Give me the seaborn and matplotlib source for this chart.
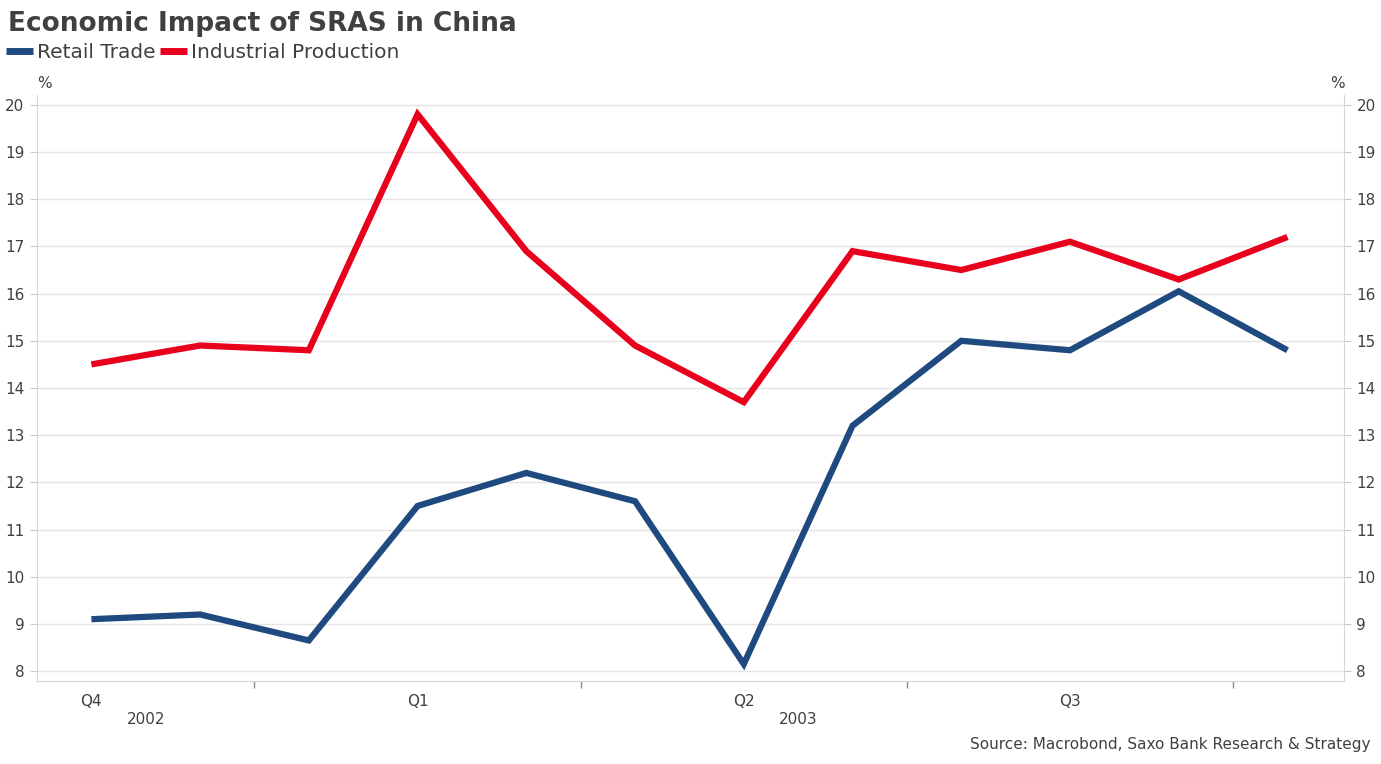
import numpy as np
import pandas as pd
import matplotlib.pyplot as plt
import seaborn as sns
from matplotlib.lines import Line2D

# data (monthly, Oct 2002 - Sep 2003, % y/y)
months = list(range(12))
retail_trade = [9.1, 9.2, 8.65, 11.5, 12.2, 11.6, 8.15, 13.2, 15.0, 14.8, 16.05, 14.8]
industrial_prod = [14.5, 14.9, 14.8, 19.8, 16.9, 14.9, 13.7, 16.9, 16.5, 17.1, 16.3, 17.2]
quarter_pos = [0, 3, 6, 9]
quarter_labels = ['Q4', 'Q1', 'Q2', 'Q3']
year_pos = [0.5, 6.5]
year_labels = ['2002', '2003']

df = pd.DataFrame({'month': months * 2,
                   'value': retail_trade + industrial_prod,
                   'series': ['Retail Trade'] * 12 + ['Industrial Production'] * 12})

sns.set_style('white')
plt.rcParams['font.family'] = ['DejaVu Sans']
txt = '#404040'
blue = '#1f4a7f'
red = '#e8001c'

fig = plt.figure(figsize=(13.81, 7.64), dpi=100)
ax = fig.add_axes([0.0268, 0.1086, 0.9464, 0.7671])

sns.lineplot(data=df, x='month', y='value', hue='series',
             palette={'Retail Trade': blue, 'Industrial Production': red},
             linewidth=4.5, ax=ax, legend=False)
for ln in ax.get_lines():
    ln.set_solid_capstyle('butt')
    ln.set_solid_joinstyle('miter')

ax.set_xlim(-0.5, 11.52)
ax.set_ylim(7.79, 20.21)
ax.set_yticks(range(8, 21))
ax.grid(axis='y', color='#e3e3e3', linewidth=1)
ax.set_axisbelow(True)
ax.set_xlabel('')
ax.set_ylabel('')

for s in ['left', 'right', 'bottom']:
    ax.spines[s].set_visible(True)
    ax.spines[s].set_color('#d6d6d6')
ax.spines['top'].set_visible(False)

ax.tick_params(axis='y', left=True, right=True, labelleft=True, labelright=True,
               length=5, color='#c8c8c8', labelsize=11, labelcolor=txt, pad=4)
ax.set_xticks([1.5, 4.5, 7.5, 10.5])
ax.set_xticklabels([])
ax.set_xticks(quarter_pos, minor=True)
ax.set_xticklabels(quarter_labels, minor=True)
ax.tick_params(axis='x', which='major', bottom=True, length=5, width=1,
               color='#888888', direction='out')
ax.tick_params(axis='x', which='minor', bottom=True, length=0, labelsize=11,
               labelcolor=txt, pad=9)

for p, lab in zip(year_pos, year_labels):
    ax.text(p, -0.065, lab, transform=ax.get_xaxis_transform(), ha='center', va='center',
            fontsize=11, color=txt)

ax.text(44 / 1381, 1 - 84 / 764, '%', transform=fig.transFigure, ha='center', va='center',
        fontsize=11, color=txt)
ax.text(1337 / 1381, 1 - 84 / 764, '%', transform=fig.transFigure, ha='center', va='center',
        fontsize=11, color=txt)

fig.text(8 / 1381, 1 - 24 / 764, 'Economic Impact of SRAS in China', ha='left', va='center',
         fontsize=19, fontweight='bold', color=txt)

# legend
handles = [Line2D([], [], color=blue, linewidth=5, solid_capstyle='butt'),
           Line2D([], [], color=red, linewidth=5, solid_capstyle='butt')]
fig.legend(handles, ['Retail Trade', 'Industrial Production'], loc='center left',
           bbox_to_anchor=(6 / 1381, 1 - 53 / 764), ncol=2, frameon=False, fontsize=14.5,
           handlelength=1.35, handletextpad=0.2, columnspacing=0.2, labelcolor=txt,
           borderaxespad=0, borderpad=0)

fig.text(1371 / 1381, 1 - 745 / 764, 'Source: Macrobond, Saxo Bank Research & Strategy',
         ha='right', va='center', fontsize=11, color=txt)

fig.savefig('out.png', dpi=100)
